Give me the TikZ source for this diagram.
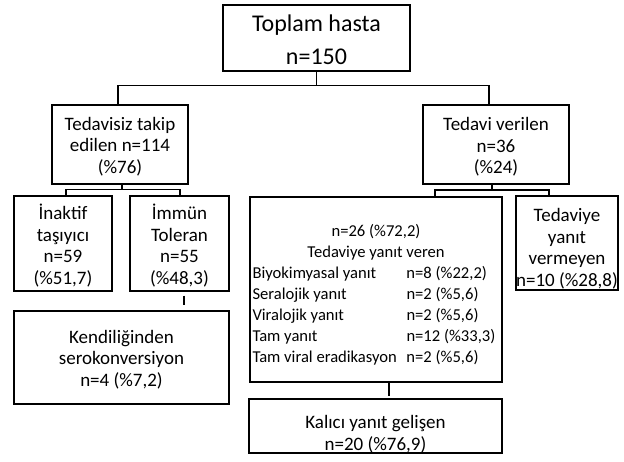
\documentclass[tikz,border=0pt]{standalone}
\usepackage{fontspec}
\setmainfont{Carlito}
\newcommand\rowpair[2]{\makebox[154pt][l]{#1}\makebox[93pt][l]{#2}}
\newcommand\centerrow[1]{\makebox[247pt][c]{#1}}
\begin{document}
\begin{tikzpicture}[x=1pt,y=-1pt,
  box/.style={draw=black, line width=1.1pt, inner sep=0pt},
  txt/.style={inner sep=0pt, align=center, font=\fontsize{19}{21.5}\selectfont},
  conn/.style={draw=black, line width=1.1pt}]
\useasboundingbox (0,0) rectangle (624,462);
\fill[white] (0,0) rectangle (624,462);

% boxes
\node[box, minimum width=187pt, minimum height=66pt] (top) at (316.5,38) {};
\node[box, minimum width=136pt, minimum height=79pt] (untreated) at (120,144.5) {};
\node[box, minimum width=146pt, minimum height=79pt] (treated) at (496,144.5) {};
\node[box, minimum width=98pt, minimum height=95pt] (inactive) at (63,243.5) {};
\node[box, minimum width=99pt, minimum height=95pt] (immune) at (179.5,243.5) {};
\node[box, minimum width=215pt, minimum height=93pt] (sero) at (121.5,357.5) {};
\node[box, minimum width=252pt, minimum height=185pt] (resp) at (376,289.5) {};
\node[box, minimum width=102pt, minimum height=94pt] (nonresp) at (567,243) {};
\node[box, minimum width=253pt, minimum height=54pt] (lasting) at (375.5,426) {};

% texts
\node[txt, font=\fontsize{24}{33}\selectfont] (top-t) at ([yshift=-2pt]top.center) {Toplam hasta\\n=150};
\node[txt] (untreated-t) at ([yshift=-2pt]untreated.center) {Tedavisiz takip\\edilen n=114\\(\%76)};
\node[txt] (treated-t) at ([yshift=-2.5pt]treated.center) {Tedavi verilen\\n=36\\(\%24)};
\node[txt] (inactive-t) at ([yshift=-2pt]inactive.center) {İnaktif\\taşıyıcı\\n=59\\(\%51,7)};
\node[txt] (immune-t) at ([yshift=-2pt]immune.center) {İmmün\\Toleran\\n=55\\(\%48,3)};
\node[txt] (sero-t) at ([yshift=-2pt]sero.center) {Kendiliğinden\\serokonversiyon\\n=4 (\%7,2)};
\node[txt, font=\fontsize{16.6}{21}\selectfont] (resp-t) at ([yshift=-5.5pt]resp.center) {%
\centerrow{n=26 (\%72,2)}\\
\centerrow{Tedaviye yanıt veren}\\
\rowpair{Biyokimyasal yanıt}{n=8 (\%22,2)}\\
\rowpair{Seralojik yanıt}{n=2 (\%5,6)}\\
\rowpair{Viralojik yanıt}{n=2 (\%5,6)}\\
\rowpair{Tam yanıt}{n=12 (\%33,3)}\\
\rowpair{Tam viral eradikasyon}{n=2 (\%5,6)}};
\node[txt] (nonresp-t) at ([yshift=-5.5pt]nonresp.center) {Tedaviye\\yanıt\\vermeyen\\n=10 (\%28,8)};
\node[txt] (lasting-t) at ([yshift=-8pt]lasting.center) {Kalıcı yanıt gelişen\\n=20 (\%76,9)};

% connectors
\draw[conn] (top.south) -- ++(0,14) coordinate (j0);
\draw[conn] ([xshift=-2pt]untreated.north) |- (j0) -| ([xshift=-7pt]treated.north);

\draw[conn] ([xshift=2pt]untreated.south) -- ++(0,5) coordinate (j1);
\draw[conn] ([xshift=3pt]inactive.north) |- (j1) -| ([xshift=0.5pt]immune.north);

\draw[conn] ([xshift=-4pt]treated.south) -- ++(0,5.5) coordinate (j2);
\draw[conn] ([xshift=59pt]resp.north) |- (j2) -| ([xshift=-18pt]nonresp.north);

\draw[conn, shorten <=4pt, shorten >=5pt] ([xshift=4.5pt]immune.south) -- ([xshift=62.5pt]sero.north);
\draw[conn, shorten >=2pt] ([xshift=13pt]resp.south) -- ([xshift=13.5pt]lasting.north);
\end{tikzpicture}
\end{document}
